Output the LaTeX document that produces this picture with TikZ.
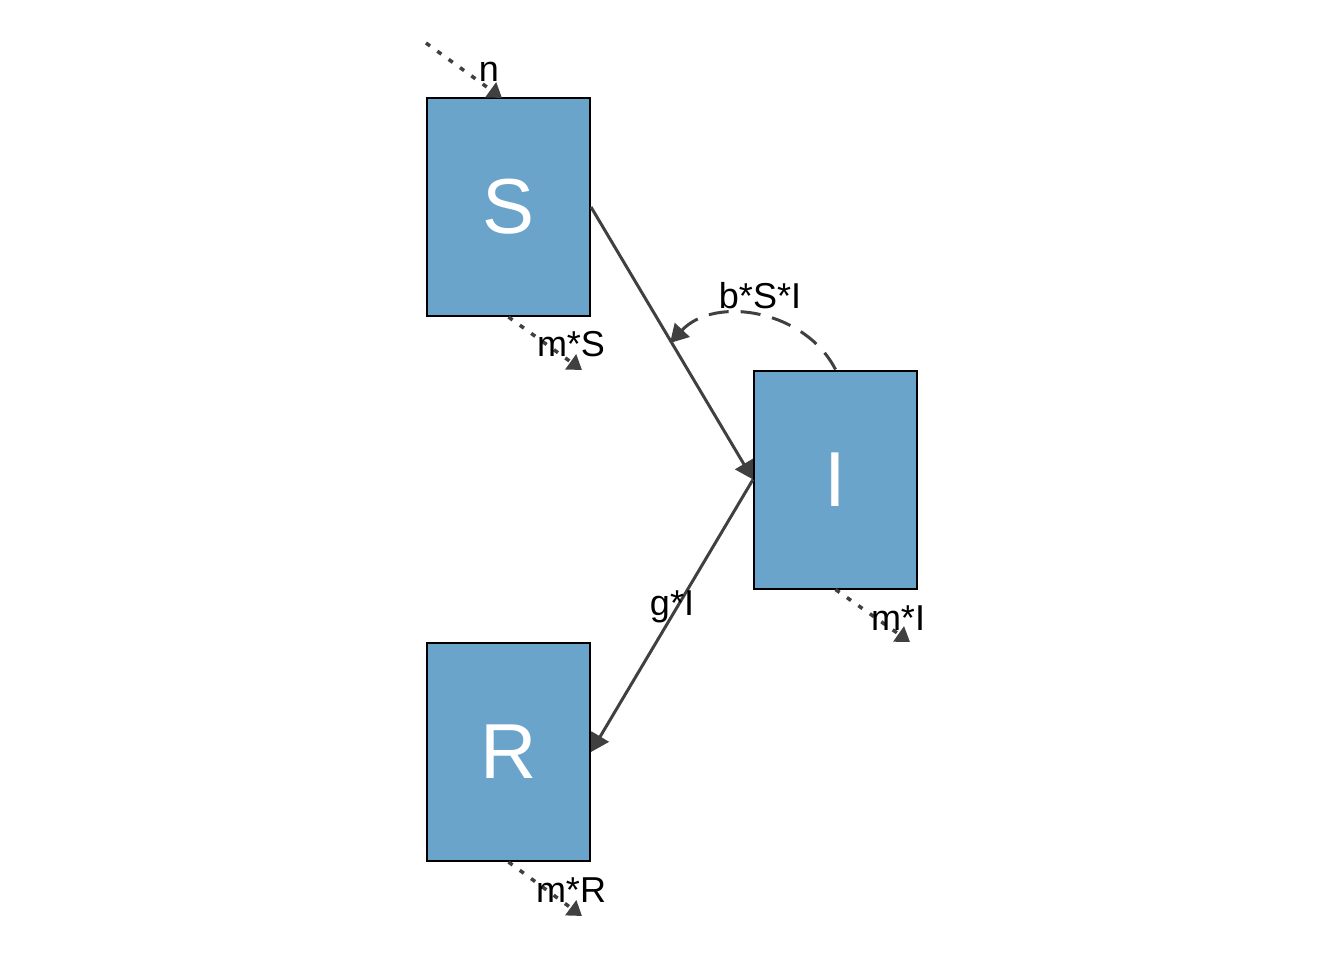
\documentclass[tikz,border=0pt]{standalone}
\usepackage{fontspec}
\setmainfont{Liberation Sans}
\usetikzlibrary{arrows.meta}
\definecolor{boxfill}{HTML}{6AA4CA}
\definecolor{conn}{HTML}{404040}
\begin{document}
\begin{tikzpicture}[x=1pt,y=-1pt,
  comp/.style={draw=black, line width=2pt, fill=boxfill, minimum width=163pt, minimum height=218pt, inner sep=0pt, text=white, font=\fontsize{78}{78}\selectfont},
  flow/.style={draw=conn, line width=3pt, -{Triangle[length=18pt,width=20pt]}},
  inter/.style={draw=conn, line width=3pt, dash pattern=on 20pt off 12pt, -{Triangle[length=18pt,width=20pt]}},
  side/.style={draw=conn, line width=3.5pt, dash pattern=on 5pt off 9pt, -{Triangle[length=14pt,width=18pt]}},
  lab/.style={font=\fontsize{36}{36}\selectfont, text=black, inner sep=0pt}
]
\useasboundingbox (0,0) rectangle (1344,960);
\node[comp] (S) at (508.5,207) {S};
\node[comp] (I) at (835.5,479.5) {I};
\node[comp] (R) at (508.5,752) {R};

\coordinate (nin) at (426,43);
\coordinate (nend) at (502,98);
\coordinate (mS) at (582,370);
\coordinate (mI) at (910,642);
\coordinate (mR) at (582,916);
\coordinate (bsi) at (670,343);

\draw[flow] (S.east) -- (I.west);
\draw[flow] (I.west) -- (R.east);
\draw[inter] (I.north) .. controls (805,310) and (715,295) .. (bsi);
\draw[side] (nin) -- (nend);
\draw[side] (S.south) -- (mS);
\draw[side] (I.south) -- (mI);
\draw[side] (R.south) -- (mR);

\node[lab] (ln) at (489,72) {n};
\node[lab] (lmS) at (571,344) {m*S};
\node[lab] (lmI) at (898,618) {m*I};
\node[lab] (lmR) at (571,890) {m*R};
\node[lab] (lb) at (760,296) {b*S*I};
\node[lab] (lg) at (672,607) {g*I};
\end{tikzpicture}
\end{document}
